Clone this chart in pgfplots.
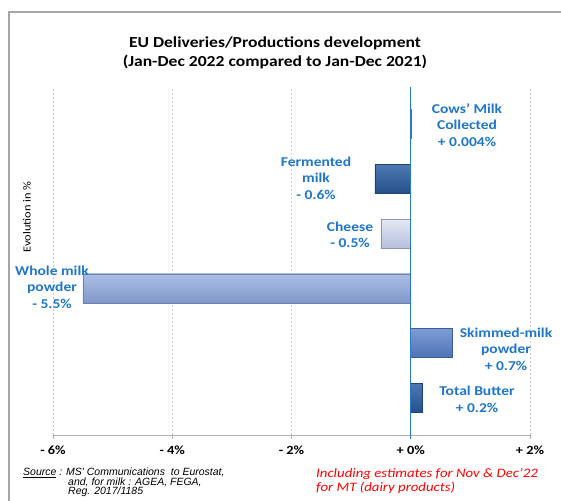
\documentclass[border=0pt]{standalone}
\usepackage{pgfplots}
\pgfplotsset{compat=1.18}
\usepackage{fontspec}
\setmainfont{Carlito}[FakeStretch=1.15]
\newfontfamily\arialfont{Liberation Sans}
\definecolor{lblue}{RGB}{30,118,200}
\definecolor{zeroblue}{RGB}{40,122,200}
\definecolor{framegray}{RGB}{166,166,166}
\definecolor{axgray}{RGB}{175,175,175}
\definecolor{gridgray}{RGB}{205,205,205}
\definecolor{fermTop}{RGB}{78,120,178}
\definecolor{fermBot}{RGB}{36,80,138}
\definecolor{fermEdge}{RGB}{30,66,115}
\definecolor{cheTop}{RGB}{228,232,244}
\definecolor{cheBot}{RGB}{182,192,220}
\definecolor{cheEdge}{RGB}{140,150,180}
\definecolor{wmpTop}{RGB}{172,190,228}
\definecolor{wmpBot}{RGB}{128,152,202}
\definecolor{wmpEdge}{RGB}{110,128,172}
\definecolor{smpTop}{RGB}{124,156,212}
\definecolor{smpBot}{RGB}{78,114,181}
\definecolor{smpEdge}{RGB}{62,94,154}
\definecolor{cowgray}{RGB}{100,112,128}
\begin{document}
\begin{tikzpicture}[x=1pt,y=1pt]
\useasboundingbox (0,0) rectangle (561,500);
\draw[framegray, line width=1.5pt] (9,-5) -- (9,488) -- (570,488);
\node[font=\bfseries\fontsize{15.3}{19}\selectfont, align=center] at (275,447.5)
  {EU Deliveries/Productions development\\(Jan-Dec 2022 compared to Jan-Dec 2021)};
\begin{axis}[
  at={(53pt,65pt)}, anchor=south west,
  scale only axis, width=477pt, height=348pt,
  xmin=-6, xmax=2, ymin=-0.675, ymax=5.675,
  xbar, bar width=0.53, bar shift=0pt,
  axis x line*=bottom, axis y line=none,
  x axis line style={axgray, line width=1pt},
  xtick={-6,-4,-2,0,2},
  xticklabels={- 6\%, - 4\%, - 2\%, + 0\%, + 2\%},
  /pgf/number format/assume math mode=true,
  xticklabel style={font=\bfseries\fontsize{12.5}{14}\selectfont, text=black, yshift=-3pt},
  tick align=outside, major tick length=4pt,
  x tick style={axgray, line width=0.8pt},
  xmajorgrids,
  major grid style={gridgray, line width=0.8pt, dash pattern=on 2pt off 2pt},
  clip=false,
]
\addplot[draw=cowgray, fill=cowgray, line width=1pt] coordinates {(0.004,5)};
\addplot[draw=fermEdge, top color=fermTop, bottom color=fermBot, line width=0.6pt] coordinates {(-0.6,4)};
\addplot[draw=cheEdge, top color=cheTop, bottom color=cheBot, line width=0.6pt] coordinates {(-0.5,3)};
\addplot[draw=wmpEdge, top color=wmpTop, bottom color=wmpBot, line width=0.6pt] coordinates {(-5.5,2)};
\addplot[draw=smpEdge, top color=smpTop, bottom color=smpBot, line width=0.6pt] coordinates {(0.7,1)};
\addplot[draw=fermEdge, top color=fermTop, bottom color=fermBot, line width=0.6pt] coordinates {(0.2,0)};
\draw[zeroblue, line width=1.3pt] (axis cs:0,5.675) -- (axis cs:0,-0.675);
\draw[zeroblue, line width=1.3pt] (axis cs:0,-0.675) -- ([yshift=-4pt]axis cs:0,-0.675);
\end{axis}
\begin{scope}[every node/.style={font=\bfseries\fontsize{13.5}{16.5}\selectfont, text=lblue, align=center}]
\node at (467,375) {Cows' Milk\\Collected\\+ 0.004\%};
\node at (316,322) {Fermented\\milk\\- 0.6\%};
\node at (350,265) {Cheese\\- 0.5\%};
\node at (52,213) {Whole milk\\powder\\- 5.5\%};
\node at (506,151) {Skimmed-milk\\powder\\+ 0.7\%};
\node at (477,100.5) {Total Butter\\+ 0.2\%};
\end{scope}
\node[rotate=90, font=\fontsize{10.8}{13}\selectfont] at (27,283) {Evolution in \%};
\begin{scope}[every node/.style={font=\arialfont\itshape\fontsize{10.5}{10}\selectfont, anchor=west, inner sep=0pt}]
\node at (23,27) {\underline{Source} : MS' Communications\ \ to Eurostat,};
\node at (68,17.3) {and, for milk : AGEA, FEGA,};
\node at (68,7.8) {Reg. 2017/1185};
\end{scope}
\begin{scope}[every node/.style={font=\itshape\fontsize{12.9}{14}\selectfont, text=red, anchor=west, inner sep=0pt}]
\node at (316,26) {Including estimates for Nov \& Dec'22};
\node at (316,12) {for MT (dairy products)};
\end{scope}
\end{tikzpicture}
\end{document}
